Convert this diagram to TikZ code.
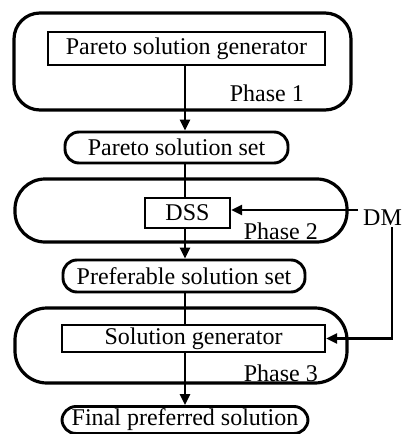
\documentclass[tikz,border=0pt]{standalone}
\usepackage{fontspec}
\setmainfont{Liberation Serif}
\usetikzlibrary{arrows.meta,calc}
\begin{document}
\begin{tikzpicture}[x=1pt,y=-1pt,
  every node/.style={font=\fontsize{24}{27}\selectfont, inner sep=0pt},
  phasebox/.style={draw, line width=3.2pt, rounded corners=#1},
  setbox/.style={draw, line width=2.9pt, rounded corners=14pt},
  unitbox/.style={draw, line width=2.2pt},
  arr/.style={line width=2.4pt, -{Triangle[length=11pt,width=10pt]}},
  link/.style={line width=2.4pt}]
\useasboundingbox (0,0) rectangle (409,434);
\coordinate (axis) at (185,0);

% Phase 1
\node[phasebox=26pt, minimum width=337pt, minimum height=97pt] (ph1) at (182.5,61.5) {};
\node[unitbox, minimum width=277pt, minimum height=33pt] (psg) at (186.5,48.5) {Pareto solution generator};
\node[anchor=base east] (l1) at (304,101) {Phase 1};

% Pareto solution set
\node[setbox, minimum width=223pt, minimum height=31pt] (pss) at (176.5,147.5) {Pareto solution set};

% Phase 2
\node[phasebox=30pt, minimum width=332pt, minimum height=63pt] (ph2) at (181,210.5) {};
\node[unitbox, minimum width=85pt, minimum height=30pt] (dss) at (187.5,213) {DSS};
\node[anchor=base east] (l2) at (318,239) {Phase 2};
\node[anchor=base west] (dm) at (363,225) {DM};

% Preferable solution set
\node[setbox, minimum width=242pt, minimum height=32pt] (pref) at (184,276) {Preferable solution set};

% Phase 3
\node[phasebox=32pt, minimum width=332pt, minimum height=75pt] (ph3) at (181,345.5) {};
\node[unitbox, minimum width=263pt, minimum height=27pt] (sg) at (193.5,338.5) {Solution generator};
\node[anchor=base east] (l3) at (318,381) {Phase 3};

% Final preferred solution
\node[setbox, minimum width=246pt, minimum height=27pt] (fin) at (185,420) {Final preferred solution};

% Flow
\draw[arr] (psg.south -| axis) -- (pss.north -| axis);
\draw[link] (pss.south -| axis) -- (dss.north -| axis);
\draw[arr] (dss.south -| axis) -- (pref.north -| axis);
\draw[link] (pref.south -| axis) -- (sg.north -| axis);
\draw[arr] (sg.south -| axis) -- (fin.north -| axis);

% Decision maker inputs
\coordinate (dmin) at (358,210);
\coordinate (dmdown) at (392,227);
\draw[arr] (dmin) -- (dmin -| dss.east);
\draw[arr] (dmdown) |- (sg.east);
\end{tikzpicture}
\end{document}
